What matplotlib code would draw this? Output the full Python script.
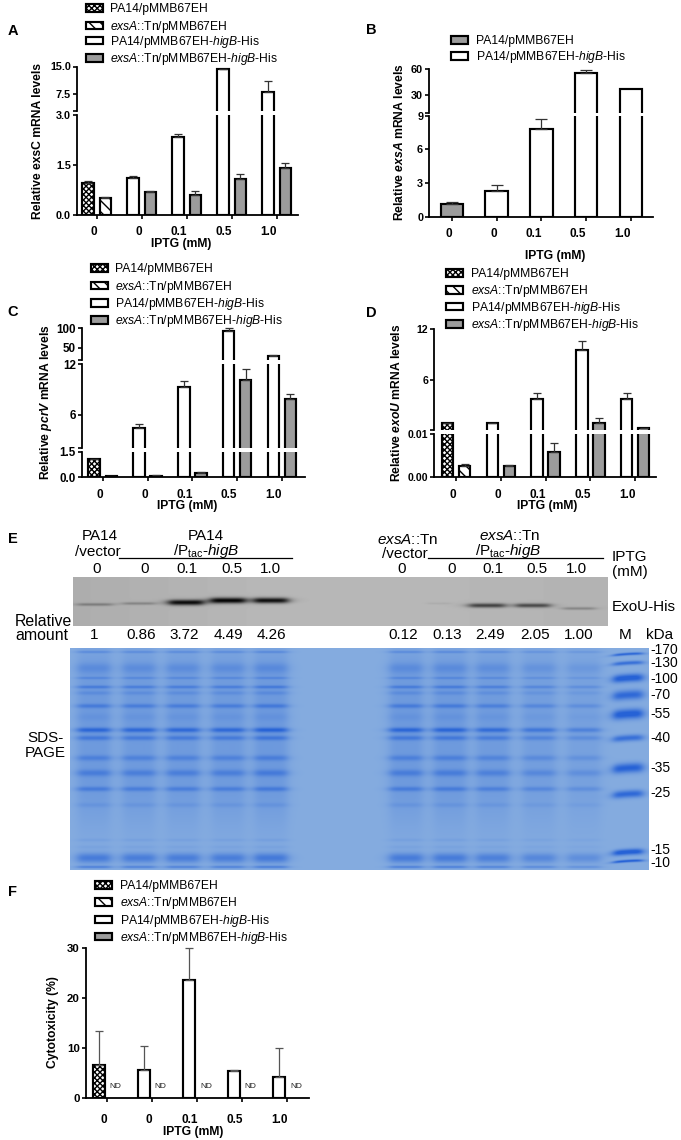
import numpy as np
import matplotlib
matplotlib.use("Agg")
import matplotlib.pyplot as plt
from matplotlib.patches import Patch
from matplotlib.transforms import ScaledTranslation

plt.rcParams['font.family'] = ['Liberation Sans', 'DejaVu Sans']
plt.rcParams['mathtext.fontset'] = 'custom'
plt.rcParams['mathtext.rm'] = 'Liberation Sans'
plt.rcParams['mathtext.it'] = 'Liberation Sans:italic'
plt.rcParams['mathtext.bf'] = 'Liberation Sans:bold'
plt.rcParams['mathtext.bfit'] = 'Liberation Sans:italic:bold'
plt.rcParams['hatch.linewidth'] = 1.0

W, H = 681, 1140

# data
iptg = ['0', '0', '0.1', '0.5', '1.0']

a_pa14 = [0.95, 1.12, 2.34, 14.3, 8.1]
a_pa14_top = [1.02, 1.17, 2.42, 14.4, 11.2]
a_tn = [0.50, 0.68, 0.61, 1.08, 1.41]
a_tn_top = [0.55, 0.71, 0.71, 1.23, 1.57]

b_vals = [1.15, 2.25, 7.8, 55.7, 36.7]
b_top = [1.35, 2.85, 8.75, 58.8, 36.7]

c_pa14 = [1.05, 4.38, 9.33, 93, 30]
c_pa14_top = [1.10, 4.86, 10.0, 99.5, 31]
c_tn = [0.08, 0.10, 0.28, 10.1, 7.87]
c_tn_top = [0.09, 0.12, 0.30, 11.4, 8.5]

d_pa14 = [0.97, 1.02, 3.8, 9.6, 3.85]
d_pa14_top = [0.99, 1.05, 4.47, 10.6, 4.47]
d_tn = [0.0026, 0.0027, 0.0058, 1.05, 0.4]
d_tn_top = [0.003, 0.0028, 0.008, 1.6, 0.42]

f_vals = [6.5, 5.6, 23.6, 5.4, 4.2]
f_top = [13.4, 10.4, 30, 5.6, 9.9]

blot_lanes_x = [94, 138, 185, 227, 270, 438, 486, 532, 578]
blot_lanes_w = [36, 33, 36, 36, 35, 24, 37, 35, 33]
blot_lanes_y = [604, 603, 602, 600, 600, 603, 605, 605, 608]
blot_lanes_amp = [0.28, 0.24, 0.95, 1.0, 0.95, 0.06, 0.65, 0.6, 0.25]
blot_amounts = ['1', '0.86', '3.72', '4.49', '4.26', '0.12', '0.13', '2.49', '2.05', '1.00']

gel_lanes_x = [93, 138, 182, 227, 270, 405, 449, 492, 538, 583]
gel_lanes_amp = [1.0, 0.95, 0.95, 0.95, 1.05, 1.0, 1.0, 0.9, 0.75, 0.6]
gel_band_y = [652, 668, 678, 687, 693, 706, 717, 730, 738, 758, 773, 789, 805, 840, 847, 858, 867]
gel_band_amp = [0.3, 0.25, 0.28, 0.42, 0.2, 0.42, 0.1, 0.7, 0.45, 0.35, 0.4, 0.42, 0.14, 0.1, 0.08, 0.62, 0.5]
gel_band_sig = [1.3, 5, 1.3, 1.6, 2, 2.2, 4, 2.4, 2.4, 2.8, 3.4, 2.4, 2.4, 1.6, 1.6, 5, 1.4]

marker_y = [654, 663, 678, 695, 714, 738, 768, 794, 852, 861]
marker_amp = [0.9, 0.8, 1.1, 0.9, 1.1, 0.8, 1.0, 0.9, 1.1, 1.0]
marker_sig = [1.4, 2, 4, 4.8, 5, 3.2, 4.8, 3.8, 3, 1.4]
marker_labels = ['-170', '-130', '-100', '-70', '-55', '-40', '-35', '-25', '-15', '-10']
marker_label_y = [650, 663, 679, 695, 714, 738, 768, 793, 850, 863]

GREY = '#9c9c9c'
BAR_LW = 1.55
CHECK = dict(facecolor='white', hatch='xxxxxx')
DIAG = dict(facecolor='white', hatch='\\\\\\')
OPEN = dict(facecolor='white')
FILLED = dict(facecolor=GREY)
names4 = ['PA14/pMMB67EH', r'$\mathit{exsA}$::Tn/pMMB67EH',
          r'PA14/pMMB67EH-$\mathit{higB}$-His', r'$\mathit{exsA}$::Tn/pMMB67EH-$\mathit{higB}$-His']
styles4 = [CHECK, DIAG, OPEN, FILLED]

fig = plt.figure(figsize=(W / 100, H / 100), dpi=100)


def make_axes(x0, x1, y_bottom, y_top):
    return fig.add_axes([x0 / W, 1 - y_bottom / H, (x1 - x0) / W, (y_bottom - y_top) / H])


def draw_panel(x0, x1, tick0, step, segs, series, width, capsize=2.8, err_col='#333333', ytick_size=7.8, pad=5):
    # segs: (low, high, px of low, px of high, ticks, labels), bottom segment first
    # series: (shift, values, tops of the error bars, first style, style of the rest)
    axes = []
    for n, (lo, hi, py_lo, py_hi, ticks, labels) in enumerate(segs):
        extra = 4 if n == len(segs) - 1 else 0
        ax = make_axes(x0, x1, py_lo, py_hi - extra)
        ax.patch.set_alpha(0)
        ax.set_xlim((x0 - tick0) / step, (x1 - tick0) / step)
        ax.set_ylim(lo, hi + (hi - lo) * extra / (py_lo - py_hi))
        for side in ['top', 'right']:
            ax.spines[side].set_visible(False)
        ax.spines['left'].set_linewidth(1.3)
        ax.spines['left'].set_bounds(lo, hi)
        ax.set_yticks(ticks)
        ax.set_yticklabels(labels, fontweight='bold', fontsize=ytick_size)
        ax.tick_params(axis='y', length=3.2, width=1.2, pad=1.2)
        if n == 0:
            ax.spines['bottom'].set_linewidth(1.3)
            ax.set_xticks(range(len(iptg)))
            ax.set_xticklabels(iptg, fontweight='bold', fontsize=8.5)
            ax.tick_params(axis='x', length=3.2, width=1.2, pad=pad)
            for lab, txt in zip(ax.get_xticklabels(), iptg):
                dx = -3 if len(txt) == 1 else -8
                lab.set_transform(lab.get_transform() + ScaledTranslation(dx / 100, 0, fig.dpi_scale_trans))
        else:
            ax.spines['bottom'].set_visible(False)
            ax.set_xticks([])
        for shift, vals, tops, first, rest in series:
            for i, (v, t) in enumerate(zip(vals, tops)):
                style = first if i == 0 else rest
                # a bar that ends below this segment would leak its top edge over the break
                if v > lo:
                    ax.bar(i + shift, v, width=width, edgecolor='black', linewidth=BAR_LW, **style)
                # only the segment that holds the top of the error bar draws it
                if t > v and lo < t <= hi:
                    ax.errorbar(i + shift, v, yerr=[[0], [t - v]], fmt='none', ecolor=err_col,
                                elinewidth=0.9, capsize=capsize, capthick=0.9)
        axes.append(ax)
    return axes


def add_legend(x, rows, labels, styles):
    # one row per call, the rows of the reference are not evenly spaced
    for y, lab, st in zip(rows, labels, styles):
        handle = Patch(edgecolor='black', linewidth=BAR_LW, **st)
        fig.legend([handle], [lab], loc='center left', bbox_to_anchor=(x / W, 1 - y / H), frameon=False,
                   fontsize=8.7, borderpad=0, borderaxespad=0, handlelength=1.43, handleheight=0.62,
                   handletextpad=0.6)


# A
draw_panel(77, 298, 96.7, 45,
           [(0, 3, 215, 115, [0, 1.5, 3], ['0.0', '1.5', '3.0']),
            (3.2, 15, 110.5, 66.5, [3.2, 7.5, 15], ['', '7.5', '15.0'])],
           [(-0.19, a_pa14, a_pa14_top, CHECK, OPEN), (0.19, a_tn, a_tn_top, DIAG, FILLED)], 0.255)
add_legend(85.7, [9, 26.7, 41.7, 59.3], names4, styles4)

# B
draw_panel(429.3, 652.7, 451.7, 44.8,
           [(0, 9, 216.7, 115.7, [0, 3, 6, 9], ['0', '3', '6', '9']),
            (9, 60, 112.7, 69, [9, 30, 60], ['', '30', '60'])],
           [(0, b_vals, b_top, FILLED, OPEN)], 0.5, capsize=4)
add_legend(451, [41.3, 57.3], ['PA14/pMMB67EH', r'PA14/pMMB67EH-$\mathit{higB}$-His'], [FILLED, OPEN])

# C
draw_panel(82, 305, 102.7, 44.8,
           [(0, 1.5, 477.3, 451.7, [0, 1.5], ['0.0', '1.5']),
            (2.07, 12, 447.7, 364.3, [2.07, 6, 12], ['', '6', '12']),
            (19.5, 100, 360, 328.3, [19.5, 50, 100], ['', '50', '100'])],
           [(-0.19, c_pa14, c_pa14_top, CHECK, OPEN), (0.19, c_tn, c_tn_top, DIAG, FILLED)],
           0.255, ytick_size=8.4)
add_legend(90.7, [269.3, 286.7, 304, 321.3], names4, styles4)

# D
draw_panel(434.3, 656, 456, 44.8,
           [(0, 0.01, 477.3, 434.3, [0, 0.01], ['0.00', '0.01']),
            (0.22, 12, 429.7, 329, [0.22, 6, 12], ['', '6', '12'])],
           [(-0.19, d_pa14, d_pa14_top, CHECK, OPEN), (0.19, d_tn, d_tn_top, DIAG, FILLED)],
           0.255, ytick_size=7.6)
add_legend(446, [274, 291, 307.7, 325], names4, styles4)

# F, the second series was not detected
ax_f = draw_panel(86, 309, 107.3, 45,
                  [(0, 30, 1097.7, 948.3, [0, 10, 20, 30], ['0', '10', '20', '30'])],
                  [(-0.185, f_vals, f_top, CHECK, OPEN)], 0.255, err_col='#555555', ytick_size=8.2, pad=8.5)[0]
for i in range(5):
    ax_f.text(i + 0.17 + (0.02 if i in (2, 4) else 0), 2.2, 'ND', fontsize=6, ha='center', va='center', color='#222222')
add_legend(95, [886, 903.3, 920.7, 937.7], names4, styles4)

# blot image
bw, bh = 535, 49
bx = np.arange(bw) + 72.5
by = np.arange(bh) + 577
XX, YY = np.meshgrid(bx, by)
blot = 0.68 + 0.04 * np.clip((XX - 72) / 200, 0, 1) - 0.02 * np.clip((XX - 420) / 190, 0, 1)
for cx, w, cy, amp in zip(blot_lanes_x, blot_lanes_w, blot_lanes_y, blot_lanes_amp):
    prof = 1 / (1 + ((XX - cx) / (w / 2)) ** 6)
    blot = blot - 0.68 * amp * prof * np.exp(-((YY - cy) / (1.0 + 1.9 * amp)) ** 2)
ax_blot = make_axes(72.5, 607.5, 626, 577)
ax_blot.imshow(np.clip(blot, 0, 1), cmap='gray', vmin=0, vmax=1, aspect='auto')
ax_blot.axis('off')

# gel image
gw, gh = 579, 223
gx = np.arange(gw) + 69.5
gy = np.arange(gh) + 647.5
XX, YY = np.meshgrid(gx, gy)
dens = np.zeros((gh, gw))
for cx, la in zip(gel_lanes_x, gel_lanes_amp):
    prof = 1 / (1 + ((XX - cx) / 17) ** 6)
    rows = 0.24 * (1 / (1 + ((YY - 735) / 85) ** 6))
    for y0, amp, sig in zip(gel_band_y, gel_band_amp, gel_band_sig):
        rows = rows + amp * np.exp(-((YY - y0) / sig) ** 2)
    dens = dens + la * prof * rows
prof = 1 / (1 + ((XX - 627) / 15) ** 6)
for y0, amp, sig in zip(marker_y, marker_amp, marker_sig):
    yc = y0 + 0.002 * (XX - 627) ** 2 - 0.06 * (XX - 627)
    dens = dens + amp * prof * np.exp(-((YY - yc) / sig) ** 2)
dens = np.clip(dens, 0, 1)
bg = np.array([133, 172, 224]) / 255
dark = np.array([38, 98, 214]) / 255
gel = bg[None, None, :] * (1 - dens[..., None]) + dark[None, None, :] * dens[..., None]
ax_gel = make_axes(69.5, 648.5, 870.5, 647.5)
ax_gel.imshow(gel, aspect='auto')
ax_gel.axis('off')

# overlay for text, positions in pixels
ov = fig.add_axes([0, 0, 1, 1], zorder=10)
ov.set_xlim(0, W)
ov.set_ylim(H, 0)
ov.axis('off')


def put(x, y, s, size=11, ha='center', **kw):
    ov.text(x, y, s, fontsize=size, ha=ha, va='center', **kw)


for x, y, s in [(13, 30.7, 'A'), (371, 30, 'B'), (13, 312.3, 'C'), (371, 313, 'D'), (12.7, 539, 'E'), (12.3, 892.3, 'F')]:
    put(x, y, s, size=10.5, fontweight='bold')

for x, y, s in [(181, 244, 'IPTG (mM)'), (554.7, 256.3, 'IPTG (mM)'), (186.7, 506, 'IPTG (mM)'),
                (546.7, 506, 'IPTG (mM)'), (192.7, 1131.5, 'IPTG (mM)')]:
    put(x, y, s, size=8.7, fontweight='bold')

for x, y, s in [(37.7, 141, 'Relative exsC mRNA levels'),
                (399.3, 142.5, r'Relative $\mathbfit{exsA}$ mRNA levels'),
                (45.7, 402, r'Relative $\mathbfit{pcrV}$ mRNA levels'),
                (396.7, 402.5, r'Relative $\mathbfit{exoU}$ mRNA levels'),
                (53, 1021.7, 'Cytotoxicity (%)')]:
    put(x, y, s, size=8.7, fontweight='bold', rotation=90)

# panel E labels
sub = r'/P$_{\mathrm{tac}}$-$\mathit{higB}$'
put(100.3, 536, 'PA14')
put(97.7, 551.7, '/vector')
put(205.7, 536, 'PA14')
put(205.7, 551, sub)
put(407.7, 540, r'$\mathit{exsA}$::Tn')
put(405, 554, '/vector')
put(510, 536, r'$\mathit{exsA}$::Tn')
put(508, 551, sub)
ov.plot([119.3, 292.3], [558.3, 558.3], color='black', lw=0.9)
ov.plot([428.3, 602.7], [558.3, 558.3], color='black', lw=0.9)
for x, s in zip([96.7, 145, 186.7, 231.7, 270.7, 401.7, 451.7, 493.3, 536.7, 576.7], iptg + iptg):
    put(x, 569.3, s)
put(611.7, 557.3, 'IPTG', ha='left')
put(611.7, 571.7, '(mM)', ha='left')
put(611.7, 606.7, 'ExoU-His', size=11, ha='left')
put(15, 621.7, 'Relative', ha='left', size=11.4)
put(15, 635, 'amount', ha='left', size=11.4)
for x, s in zip([94.3, 140.7, 184.3, 228.3, 271.7, 403.3, 447.3, 490, 535, 578.3], blot_amounts):
    put(x, 635, s)
put(625, 635, 'M')
put(660, 635, 'kDa')
put(45.7, 738.3, 'SDS-')
put(45.7, 752.7, 'PAGE')
for y, s in zip(marker_label_y, marker_labels):
    put(650, y, s, ha='left', size=10)

fig.savefig('out.png', dpi=100)
